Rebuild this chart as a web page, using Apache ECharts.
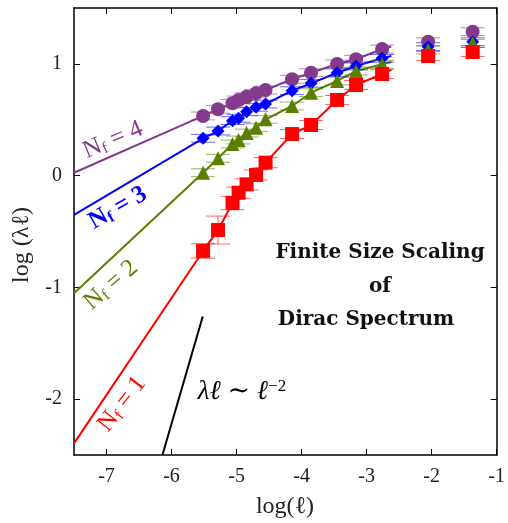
<!DOCTYPE html>
<html>
<head>
<meta charset="utf-8">
<script src="https://cdn.jsdelivr.net/npm/echarts@6/dist/echarts.min.js"></script>
<style>
  html, body { margin: 0; padding: 0; background: #fff; }
  #main { width: 508px; height: 523px; }
</style>
</head>
<body>
<div id="main"></div>
<script>
// log(l) values (same lattice sizes for every Nf)
var xs = [-5.515, -5.285, -5.062, -4.969, -4.846, -4.700, -4.554, -4.146, -3.854, -3.454, -3.162, -2.762, -2.054, -1.369];

// log(lambda l) per flavour number
var nf1 = [-0.674, -0.487, -0.245, -0.153, -0.078, 0.006, 0.116, 0.372, 0.453, 0.677, 0.811, 0.909, 1.070, 1.106];
var nf2 = [0.026, 0.155, 0.283, 0.319, 0.381, 0.429, 0.504, 0.623, 0.742, 0.847, 0.936, 0.996, 1.124, 1.184];
var nf3 = [0.334, 0.399, 0.492, 0.513, 0.572, 0.612, 0.641, 0.760, 0.826, 0.921, 0.981, 1.050, 1.154, 1.198];
var nf4 = [0.534, 0.594, 0.647, 0.677, 0.706, 0.737, 0.766, 0.862, 0.921, 0.999, 1.041, 1.133, 1.198, 1.288];

// error bars
var err1 = [0.065, 0.125, 0.06, 0.05, 0.05, 0.045, 0.045, 0.04, 0.04, 0.04, 0.04, 0.04, 0.04, 0.04];
var err2 = [0.035, 0.035, 0.035, 0.035, 0.035, 0.035, 0.035, 0.035, 0.035, 0.035, 0.035, 0.035, 0.035, 0.035];
var err3 = [0.035, 0.035, 0.035, 0.035, 0.035, 0.035, 0.035, 0.035, 0.035, 0.035, 0.035, 0.035, 0.035, 0.035];
var err4 = [0.035, 0.035, 0.035, 0.035, 0.035, 0.035, 0.035, 0.035, 0.035, 0.035, 0.035, 0.035, 0.035, 0.035];

// fit curves: extension to the left edge and past the last fitted point
var fitX = [-7.5, -2.62];
var fit1 = [-2.396, 0.947];
var fit2 = [-1.053, 1.017];
var fit3 = [-0.352, 1.070];
var fit4 = [0.026, 1.155];
var nFit = 12; // fit uses the first 12 sizes

// lambda l ~ l^-2 guide
var guideX = [-6.14, -5.52];
var guideY = [-2.5, -1.26];

var xTicks = [-7, -6, -5, -4, -3, -2, -1];
var yTicks = [-2, -1, 0, 1];

var colors = ['#ff0000', '#5b7f00', '#0000ff', '#843a8c'];
var symbols = ['rect', 'triangle', 'diamond', 'circle'];
var sizes = [14, 14, 13, 14];
var ys = [nf1, nf2, nf3, nf4];
var errs = [err1, err2, err3, err4];
var fits = [fit1, fit2, fit3, fit4];

var serif = '"Liberation Serif", "DejaVu Serif", serif';

var myChart = echarts.init(document.getElementById('main'));

function fitData(i){
    var d = [[fitX[0], fits[i][0]]];
    for (var k = 0; k < nFit; k++) d.push([xs[k], ys[i][k]]);
    d.push([fitX[1], fits[i][1]]);
    return d;
}

function errRender(color){
    return function(params, api){
        var x = api.value(0), y = api.value(1), e = api.value(2);
        var hi = api.coord([x, y + e]);
        var lo = api.coord([x, y - e]);
        var w = 12;
        var st = { stroke: color, lineWidth: 1, opacity: 0.6 };
        return {
            type: 'group',
            children: [
                { type: 'line', shape: { x1: hi[0], y1: hi[1], x2: lo[0], y2: lo[1] }, style: st },
                { type: 'line', shape: { x1: hi[0] - w, y1: hi[1], x2: hi[0] + w, y2: hi[1] }, style: st },
                { type: 'line', shape: { x1: lo[0] - w, y1: lo[1], x2: lo[0] + w, y2: lo[1] }, style: st }
            ]
        };
    };
}

var series = [];
// draw purple first, red last (red on top)
for (var i = 3; i >= 0; i--) {
    series.push({
        type: 'line',
        data: fitData(i),
        showSymbol: false,
        smooth: false,
        lineStyle: { color: colors[i], width: 2 },
        silent: true,
        z: 2
    });
    series.push({
        type: 'custom',
        renderItem: errRender(colors[i]),
        data: xs.map(function(x, k){ return [x, ys[i][k], errs[i][k]]; }),
        z: 3
    });
    series.push({
        type: 'scatter',
        data: xs.map(function(x, k){ return [x, ys[i][k]]; }),
        symbol: symbols[i],
        symbolSize: sizes[i],
        itemStyle: { color: colors[i], opacity: 1 },
        z: 4
    });
}
series.push({
    type: 'line',
    data: [[guideX[0], guideY[0]], [guideX[1], guideY[1]]],
    showSymbol: false,
    lineStyle: { color: '#000', width: 2 },
    z: 2
});

function axisCommon(vals, show){
    return {
        axisLine: { show: true, onZero: false, lineStyle: { color: '#000', width: 1.5 } },
        axisTick: { show: true, inside: true, length: 6, customValues: vals, lineStyle: { color: '#000', width: 1 } },
        axisLabel: { show: show, customValues: vals, color: '#222', fontFamily: serif, fontSize: 20, margin: 12 },
        splitLine: { show: false }
    };
}

var xb = axisCommon(xTicks, true);
var xt = axisCommon(xTicks, false);
var yl = axisCommon(yTicks, true);
var yr = axisCommon(yTicks, false);

function nfText(n, x, y, rot, color, bold){
    return {
        type: 'text',
        x: x, y: y,
        rotation: rot * Math.PI / 180,
        style: {
            text: '{n|N}{s|f}{n| = ' + n + '}',
            align: 'center',
            verticalAlign: 'middle',
            fill: color,
            rich: {
                n: { fontFamily: serif, fontSize: 25, fontWeight: bold ? 'bold' : 'normal', color: color, lineHeight: 26 },
                s: { fontFamily: serif, fontSize: 16, fontWeight: bold ? 'bold' : 'normal', color: color, lineHeight: 16, verticalAlign: 'bottom', padding: [7, 0, 0, 0] }
            }
        },
        z: 10
    };
}

var option = {
    animation: false,
    backgroundColor: '#fff',
    grid: { left: 74, right: 10, top: 8, bottom: 68, show: false },
    xAxis: [
        Object.assign({ type: 'value', min: -7.5, max: -1, position: 'bottom' }, xb),
        Object.assign({ type: 'value', min: -7.5, max: -1, position: 'top' }, xt)
    ],
    yAxis: [
        Object.assign({ type: 'value', min: -2.5, max: 1.5, position: 'left' }, yl),
        Object.assign({ type: 'value', min: -2.5, max: 1.5, position: 'right' }, yr)
    ],
    series: series,
    graphic: [
        nfText(4, 113, 140, 23, colors[3], false),
        nfText(3, 118, 208, 30, colors[2], true),
        nfText(2, 111, 285, 41, colors[1], false),
        nfText(1, 122, 404, 52, colors[0], false),
        {
            type: 'text', x: 242, y: 392, z: 10,
            style: {
                text: '{m|λℓ ∼ ℓ}{p|−2}',
                align: 'center', verticalAlign: 'middle',
                rich: {
                    m: { fontFamily: serif, fontStyle: 'italic', fontSize: 27, color: '#111', lineHeight: 28 },
                    p: { fontFamily: serif, fontSize: 17, color: '#111', lineHeight: 17, verticalAlign: 'top', padding: [0, 0, 10, 0] }
                }
            }
        },
        {
            type: 'text', x: 380, y: 253, z: 10,
            style: { text: 'Finite Size Scaling', align: 'center', verticalAlign: 'middle', fontFamily: '"DejaVu Serif", serif', fontWeight: 'bold', fontSize: 20, fill: '#111' }
        },
        {
            type: 'text', x: 380, y: 287, z: 10,
            style: { text: 'of', align: 'center', verticalAlign: 'middle', fontFamily: '"DejaVu Serif", serif', fontWeight: 'bold', fontSize: 20, fill: '#111' }
        },
        {
            type: 'text', x: 366, y: 320, z: 10,
            style: { text: 'Dirac Spectrum', align: 'center', verticalAlign: 'middle', fontFamily: '"DejaVu Serif", serif', fontWeight: 'bold', fontSize: 20, fill: '#111' }
        },
        {
            type: 'text', x: 285, y: 507, z: 10,
            style: { text: 'log(ℓ)', align: 'center', verticalAlign: 'middle', fontFamily: serif, fontSize: 24, fill: '#222' }
        },
        {
            type: 'text', x: 22, y: 245, z: 10, rotation: Math.PI / 2,
            style: { text: 'log (λℓ)', align: 'center', verticalAlign: 'middle', fontFamily: serif, fontSize: 24, fill: '#222' }
        }
    ]
};

myChart.setOption(option);
</script>
</body>
</html>
